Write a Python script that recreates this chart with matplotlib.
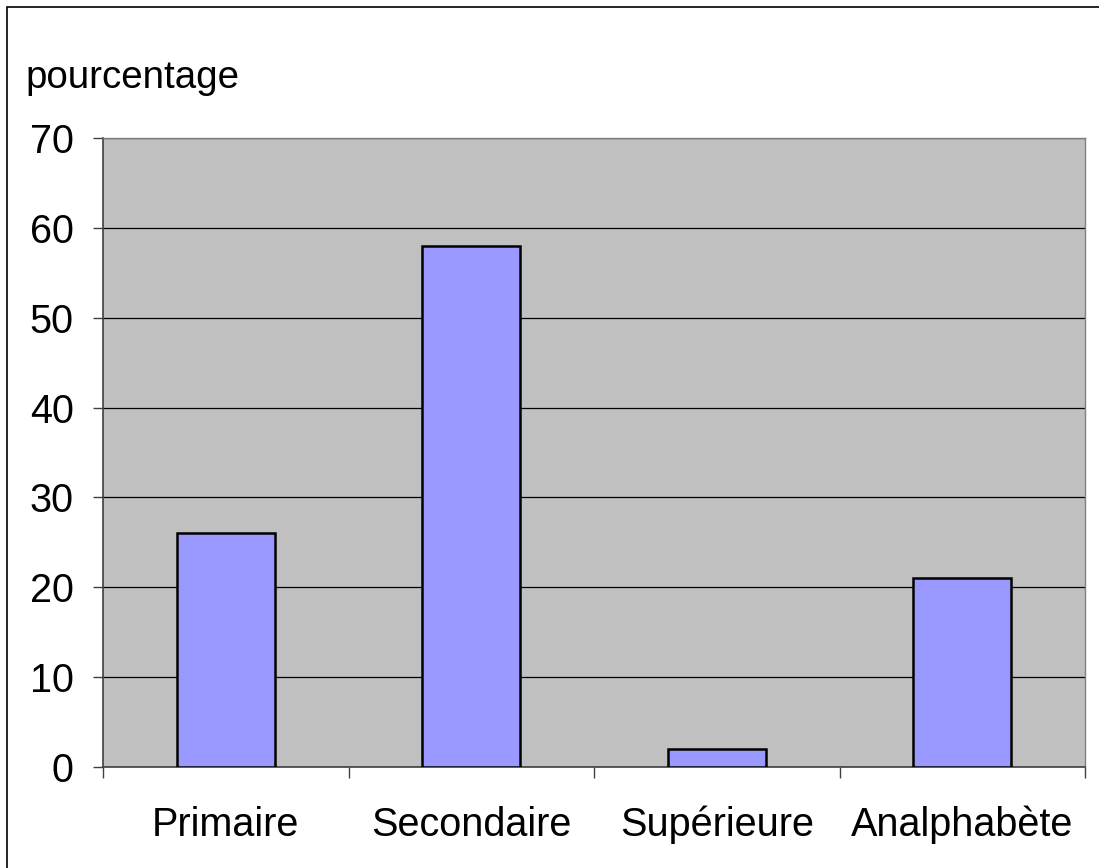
import matplotlib
matplotlib.use("Agg")
import matplotlib.pyplot as plt
from matplotlib.patches import Rectangle

categories = ["Primaire", "Secondaire", "Supérieure", "Analphabète"]
values = [26, 58, 2, 21]
yticks = [0, 10, 20, 30, 40, 50, 60, 70]

plt.rcParams['font.family'] = ['Liberation Sans', 'DejaVu Sans']

W, H = 1099, 868
fig = plt.figure(figsize=(W/100, H/100), dpi=100)
fig.patch.set_facecolor('white')

ax = fig.add_axes([103/W, 1-767/H, (1085-103)/W, (767-138)/H])
ax.set_facecolor('#C0C0C0')

x = list(range(len(categories)))
ax.bar(x, values, width=0.40, color='#9999FF', edgecolor='black', linewidth=1.8, zorder=3)

ax.set_xlim(-0.5, len(categories)-0.5)
ax.set_ylim(0, 70)
ax.set_yticks(yticks)
ax.set_yticklabels([str(t) for t in yticks], fontsize=28.5)
ax.yaxis.grid(True, color='black', linewidth=0.9, zorder=1)
ax.set_axisbelow(True)

ax.set_xticks([i + 0.5 for i in range(-1, len(categories))])
ax.set_xticklabels([])
ax.set_xticks(x, minor=True)
ax.set_xticklabels(categories, minor=True, fontsize=28.5)
ax.tick_params(axis='x', which='minor', length=0, pad=28)
ax.tick_params(axis='x', which='major', length=8, width=1, color='#404040', direction='out')
ax.tick_params(axis='y', length=7, width=1, color='#404040', direction='out', pad=14)

for s in ['top', 'right']:
    ax.spines[s].set_color('#808080')
    ax.spines[s].set_linewidth(1)
for s in ['left', 'bottom']:
    ax.spines[s].set_color('#404040')
    ax.spines[s].set_linewidth(1.2)

fig.text(25/W, 1-88/H, "pourcentage", fontsize=27.7, ha='left', va='baseline')

# outer frame (left and top visible)
fig.patches.append(Rectangle((7/W, -0.05), 1.2, 1-7/H+0.05, transform=fig.transFigure,
                             fill=False, edgecolor='black', linewidth=1.2))

fig.savefig("out.png", dpi=100)
